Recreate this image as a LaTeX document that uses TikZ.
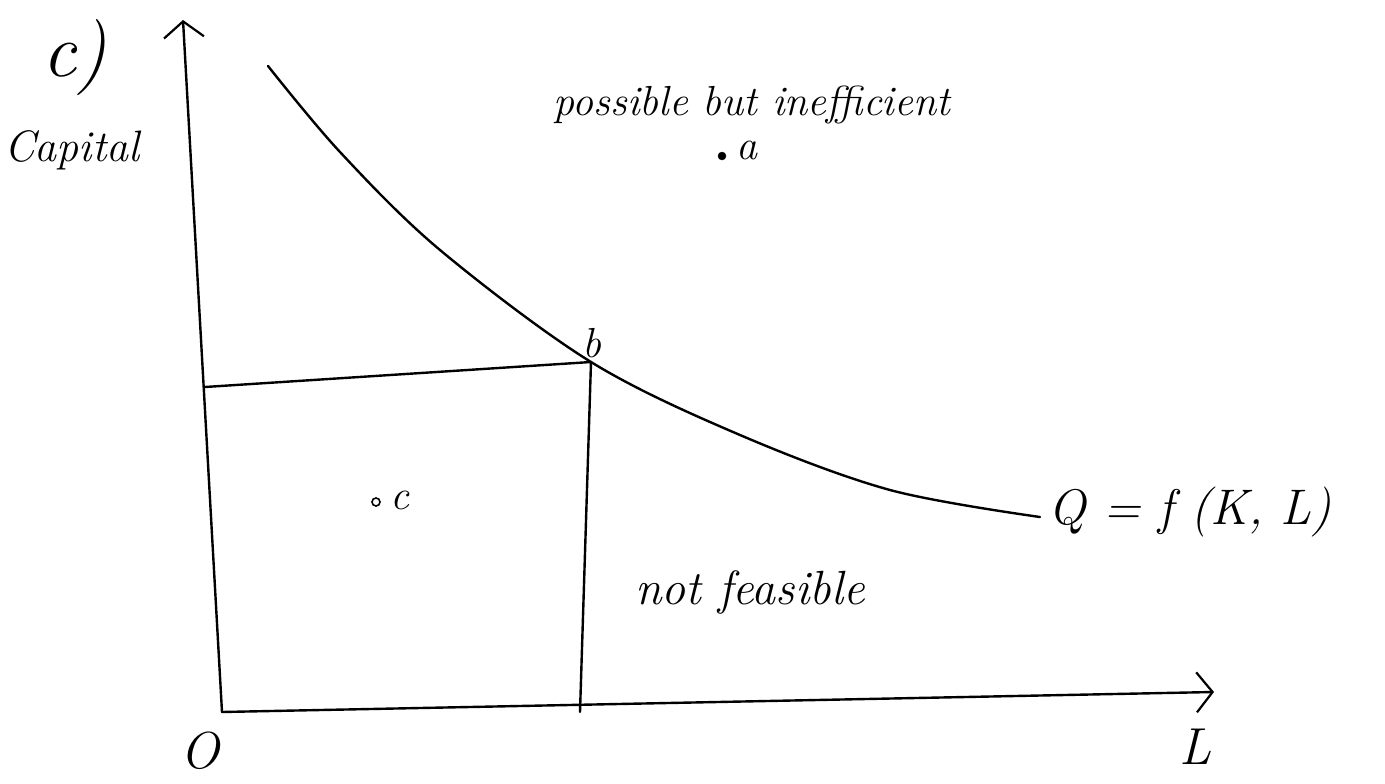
\documentclass[tikz,border=0pt]{standalone}
\usetikzlibrary{arrows.meta}
\begin{document}
\begin{tikzpicture}[x=1pt,y=-1pt,
  ink/.style={line width=2.4pt,line cap=round,line join=round},
  axisarrow/.style={ink,-{Straight Barb[length=16pt,width=40pt,line width=2.2pt]}},
  hand/.style={font=\fontsize{42}{46}\selectfont\itshape,inner sep=0pt},
  bigtxt/.style={font=\fontsize{52}{56}\selectfont\itshape,inner sep=0pt},
  pt/.style={circle,draw,fill=black,inner sep=0pt,minimum size=8pt}]
\useasboundingbox (0,0) rectangle (1385,784);
% axes
\coordinate (origin) at (222,712);
\coordinate (ytop) at (183,20);
\coordinate (xend) at (1214,692);
\draw[axisarrow] (origin) -- (ytop);
\draw[axisarrow] (origin) -- (xend);
% isoquant
\coordinate (b) at (591,362);
\draw[ink] plot[smooth,tension=0.55] coordinates {(268,66) (340,152) (440,250) (591,362) (740,435) (890,490) (1040,517)};
% guide lines
\coordinate (hl) at (205,387);
\coordinate (vb) at (580,712);
\draw[ink] (hl) -- (b) -- (vb);
% labels
\node[font=\fontsize{76}{80}\selectfont\itshape,inner sep=0pt] (part) at (75,58) {c)};
\node[font=\fontsize{44}{48}\selectfont\itshape,inner sep=0pt,anchor=west] (cap) at (4,150) {Capital};
\node[hand] (poss) at (752,105) {possible but inefficient};
\node[pt] (pa) at (722,156) {};
\node[hand,anchor=west] (la) at (736,150) {a};
\node[hand] (lb) at (592,343) {b};
\node[pt,fill=white,line width=1.6pt,minimum size=8pt] (pc) at (376,502) {};
\node[hand,anchor=west] (lc) at (390,500) {c};
\node[font=\fontsize{48}{52}\selectfont\itshape,inner sep=0pt] (nf) at (750,592) {not feasible};
\node[font=\fontsize{50}{54}\selectfont\itshape,inner sep=0pt,anchor=west] (q) at (1048,512) {Q = f (K, L)};
\node[bigtxt,anchor=south] (lo) at (200,770) {O};
\node[bigtxt,anchor=south] (ll) at (1195,765) {L};
\end{tikzpicture}
\end{document}
